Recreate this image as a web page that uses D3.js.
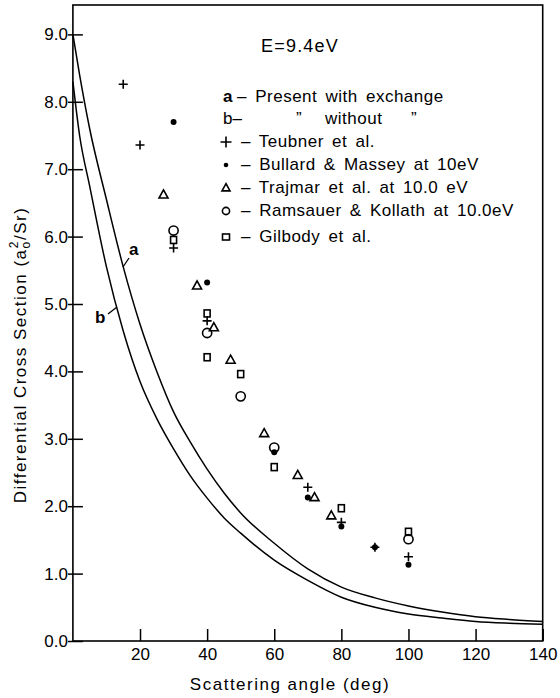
<!DOCTYPE html>
<html><head><meta charset="utf-8">
<script src="https://cdn.jsdelivr.net/npm/d3@7"></script>
<style>body{margin:0;background:#fff;} text{font-family:"Liberation Sans",Arial,sans-serif;fill:#000;}</style>
</head><body><svg id="c" width="560" height="698"></svg>
<script>
// ---- data ----
const curveAngles = [0,2,5,10,15,20,25,30,35,40,45,50,60,70,80,90,100,110,120,130,140];
const curveA = [9.0,8.4,7.6,6.55,5.55,4.7,4.0,3.4,2.95,2.55,2.2,1.9,1.45,1.07,0.8,0.64,0.52,0.43,0.36,0.32,0.29];
const curveB = [8.3,7.5,6.75,5.55,4.6,3.85,3.3,2.85,2.45,2.12,1.83,1.6,1.2,0.9,0.65,0.5,0.4,0.34,0.29,0.265,0.25];

const teubnerAngles = [15,20,30,40,70,80,90,100];
const teubnerValues = [8.26,7.36,5.83,4.75,2.28,1.76,1.39,1.25];
const bullardAngles = [30,40,60,70,80,90,100];
const bullardValues = [7.70,5.32,2.80,2.13,1.70,1.39,1.13];
const trajmarAngles = [27,37,42,47,57,67,72,77];
const trajmarValues = [6.62,5.27,4.65,4.17,3.08,2.46,2.13,1.86];
const ramsauerAngles = [30,40,50,60,100];
const ramsauerValues = [6.09,4.57,3.63,2.87,1.51];
const gilbodyAngles = [30,40,40,50,60,80,100];
const gilbodyValues = [5.95,4.86,4.21,3.96,2.58,1.97,1.62];

const xTicks = [20,40,60,80,100,120,140];
const yTicks = [0,1,2,3,4,5,6,7,8,9];

// ---- scales ----
const svg = d3.select("#c");
const x = d3.scaleLinear().domain([0,140]).range([72.9,542.7]);
const y = d3.scaleLinear().domain([0,9.436]).range([641,5]);

// frame
const g = svg.append("g");
g.append("rect").attr("x",x(0)).attr("y",y(9.436)).attr("width",x(140)-x(0)).attr("height",y(0)-y(9.436))
 .attr("fill","none").attr("stroke","#000").attr("stroke-width",1.6);

// y ticks
const yAxis = d3.axisLeft(y).tickValues(yTicks).tickFormat(d3.format(".1f")).tickSizeInner(-10).tickSizeOuter(0).tickPadding(6);
const ya = g.append("g").attr("transform",`translate(${x(0)},0)`).call(yAxis);
ya.select(".domain").remove();
ya.selectAll(".tick line").attr("x1",-5).attr("x2",10).attr("stroke-width",1.5);
ya.selectAll(".tick text").attr("x",-5).style("font-size","17px").style("font-family","Liberation Sans");

// x ticks
const xAxis = d3.axisBottom(x).tickValues(xTicks).tickFormat(d3.format("d")).tickSizeInner(-12).tickSizeOuter(0).tickPadding(8);
const xa = g.append("g").attr("transform",`translate(0,${y(0)})`).call(xAxis);
xa.select(".domain").remove();
xa.selectAll(".tick line").attr("stroke-width",1.5);
xa.selectAll(".tick text").attr("y",19).attr("dy","0").style("font-size","17px").style("font-family","Liberation Sans");

// axis titles
svg.append("text").attr("x",290).attr("y",690).attr("text-anchor","middle").style("font-size","17px")
  .attr("letter-spacing","1.5").text("Scattering angle (deg)");
const yl = svg.append("text").attr("transform","translate(26,355) rotate(-90)").attr("text-anchor","middle")
  .style("font-size","17px").attr("letter-spacing","1.5");
yl.append("tspan").text("Differential Cross Section (a");
yl.append("tspan").attr("dy",4).style("font-size","12px").text("o");
yl.append("tspan").attr("dy",-12).attr("dx",-8).style("font-size","12px").text("2");
yl.append("tspan").attr("dy",8).text("/Sr)");

// curves
const line = d3.line().x(d=>x(d[0])).y(d=>y(d[1])).curve(d3.curveMonotoneX);
g.append("path").datum(curveAngles.map((a,i)=>[a,curveA[i]])).attr("d",line).attr("fill","none").attr("stroke","#000").attr("stroke-width",1.5);
g.append("path").datum(curveAngles.map((a,i)=>[a,curveB[i]])).attr("d",line).attr("fill","none").attr("stroke","#000").attr("stroke-width",1.5);

// curve labels
svg.append("text").attr("x",129).attr("y",255).style("font-size","17px").style("font-weight","bold").text("a");
svg.append("line").attr("x1",129).attr("y1",258).attr("x2",123).attr("y2",267).attr("stroke","#000").attr("stroke-width",1.3);
svg.append("text").attr("x",95).attr("y",323).style("font-size","17px").style("font-weight","bold").text("b");
svg.append("line").attr("x1",108).attr("y1",314).attr("x2",117).attr("y2",307).attr("stroke","#000").attr("stroke-width",1.3);

// markers
function plus(sel,cx,cy,s){sel.append("path").attr("d",`M${cx-s},${cy}H${cx+s}M${cx},${cy-s}V${cy+s}`).attr("stroke","#000").attr("stroke-width",1.6).attr("fill","none");}
function dot(sel,cx,cy,r){sel.append("circle").attr("cx",cx).attr("cy",cy).attr("r",r).attr("fill","#000");}
function tri(sel,cx,cy,s){const h=s*0.9;sel.append("path").attr("d",`M${cx},${cy-h*0.6}L${cx+s/2},${cy+h*0.4}L${cx-s/2},${cy+h*0.4}Z`).attr("stroke","#000").attr("stroke-width",1.6).attr("fill","none");}
function circ(sel,cx,cy,r){sel.append("circle").attr("cx",cx).attr("cy",cy).attr("r",r).attr("stroke","#000").attr("stroke-width",1.6).attr("fill","none");}
function sq(sel,cx,cy,w,h){sel.append("rect").attr("x",cx-w/2).attr("y",cy-h/2).attr("width",w).attr("height",h).attr("stroke","#000").attr("stroke-width",1.6).attr("fill","none");}

const pts = svg.append("g");
teubnerAngles.forEach((a,i)=>plus(pts,x(a),y(teubnerValues[i]),4.5));
bullardAngles.forEach((a,i)=>dot(pts,x(a),y(bullardValues[i]),3));
trajmarAngles.forEach((a,i)=>tri(pts,x(a),y(trajmarValues[i]),9));
ramsauerAngles.forEach((a,i)=>circ(pts,x(a),y(ramsauerValues[i]),4.6));
gilbodyAngles.forEach((a,i)=>sq(pts,x(a),y(gilbodyValues[i]),6,7));

// title & legend
svg.append("text").attr("x",261).attr("y",52).style("font-size","18px").attr("letter-spacing","1.2").text("E=9.4eV");
const lg = svg.append("g").style("font-size","17px");
lg.append("text").attr("x",223).attr("y",102).style("font-weight","bold").text("a");
lg.append("text").attr("x",237).attr("y",102).attr("letter-spacing","0.5").attr("word-spacing","3").text("– Present with exchange");
lg.append("text").attr("x",223).attr("y",124).text("b–");
lg.append("text").attr("x",296).attr("y",124).text("”");
lg.append("text").attr("x",325).attr("y",124).attr("letter-spacing","0.5").text("without");
lg.append("text").attr("x",411).attr("y",124).text("”");
const rows = [
  {y:147, t:"– Teubner et al.", m:(s,cx,cy)=>plus(s,cx,cy,5.5)},
  {y:170, t:"– Bullard \u0026 Massey at 10eV", m:(s,cx,cy)=>dot(s,cx,cy,2.3)},
  {y:193, t:"– Trajmar et al. at 10.0 eV", m:(s,cx,cy)=>tri(s,cx,cy,8)},
  {y:216, t:"– Ramsauer \u0026 Kollath at 10.0eV", m:(s,cx,cy)=>circ(s,cx,cy,3.6)},
  {y:242, t:"– Gilbody et al.", m:(s,cx,cy)=>sq(s,cx,cy,7,6)}
];
rows.forEach(r=>{
  r.m(lg,226,r.y-5);
  lg.append("text").attr("x",241).attr("y",r.y).attr("letter-spacing","0.5").attr("word-spacing","3").text(r.t);
});
</script></body></html>
